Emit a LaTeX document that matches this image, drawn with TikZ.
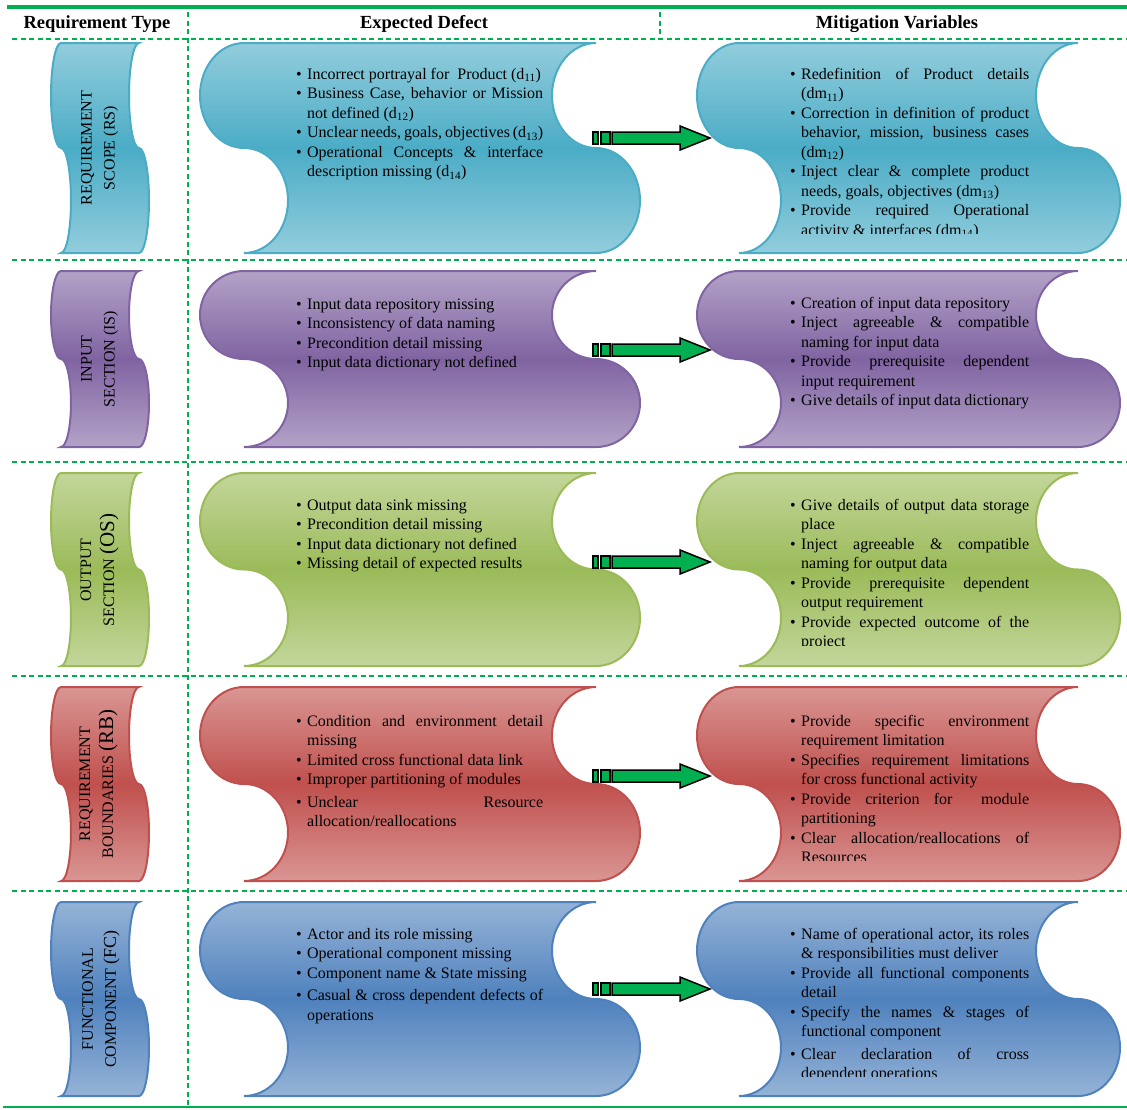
\documentclass[tikz,border=0pt]{standalone}
\usepackage{fontspec}
\setmainfont{Liberation Serif}
\definecolor{lnGreen}{HTML}{00B050}
\definecolor{rsD}{HTML}{4BACC6}\definecolor{rsL}{HTML}{92CDDC}
\definecolor{isD}{HTML}{8064A2}\definecolor{isL}{HTML}{B3A2C7}
\definecolor{osD}{HTML}{9BBB59}\definecolor{osL}{HTML}{C3D69B}
\definecolor{rbD}{HTML}{C0504D}\definecolor{rbL}{HTML}{D99694}
\definecolor{fcD}{HTML}{4F81BD}\definecolor{fcL}{HTML}{95B3D7}
\tikzset{
  tapesty/.style={draw=#1D, line width=2pt, top color=#1L, bottom color=#1L, middle color=#1D},
  gridline/.style={draw=lnGreen, line width=2pt, dash pattern=on 5pt off 3.5pt},
  arrowbox/.style={fill=lnGreen, draw=black, line width=1.5pt, line join=miter},
  hdr/.style={anchor=base, inner sep=0pt, font=\bfseries\fontsize{18.5}{22}\selectfont},
  edtext/.style={anchor=base west, inner sep=0pt, text width=247pt, align=justify, font=\fontsize{16}{19.5}\selectfont},
  mvtext/.style={anchor=base west, inner sep=0pt, text width=239pt, align=justify, font=\fontsize{16}{19.5}\selectfont},
  typetext/.style={rotate=90, align=center, inner sep=0pt, font=\fontsize{16}{23}\selectfont},
}
\newcommand\bfirst{\hangindent=11pt\hangafter=1\noindent\hbox to 11pt{\textbullet\hfil}}
\newcommand\bitem{\par\bfirst}
\newcommand\bgap{\par\vskip3pt\bfirst}
\newcommand\tapeshape[6]{%
 \pgfmathsetmacro\Tq{(#5-#4)/4}%
 \pgfmathsetmacro\Tka{0.5523*#6}%
 \pgfmathsetmacro\Tkq{0.5523*\Tq}%
 \pgfmathsetmacro\Ya{#4+\Tq-\Tkq}%
 \pgfmathsetmacro\Yb{#4+\Tq}%
 \pgfmathsetmacro\Yc{#4+\Tq+\Tkq}%
 \pgfmathsetmacro\Yd{#4+2*\Tq}%
 \pgfmathsetmacro\Ye{#4+3*\Tq-\Tkq}%
 \pgfmathsetmacro\Yf{#4+3*\Tq}%
 \pgfmathsetmacro\Yg{#4+3*\Tq+\Tkq}%
 \pgfmathsetmacro\XRa{#3-\Tka}\pgfmathsetmacro\XRb{#3-#6}\pgfmathsetmacro\XRc{#3+\Tka}\pgfmathsetmacro\XRd{#3+#6}%
 \pgfmathsetmacro\XLa{#2-\Tka}\pgfmathsetmacro\XLb{#2-#6}\pgfmathsetmacro\XLc{#2+\Tka}\pgfmathsetmacro\XLd{#2+#6}%
 \path[tapesty=#1] (#2,#4) -- (#3,#4)
  .. controls (\XRa,#4) and (\XRb,\Ya) .. (\XRb,\Yb)
  .. controls (\XRb,\Yc) and (\XRa,\Yd) .. (#3,\Yd)
  .. controls (\XRc,\Yd) and (\XRd,\Ye) .. (\XRd,\Yf)
  .. controls (\XRd,\Yg) and (\XRc,#5) .. (#3,#5)
  -- (#2,#5)
  .. controls (\XLc,#5) and (\XLd,\Yg) .. (\XLd,\Yf)
  .. controls (\XLd,\Ye) and (\XLc,\Yd) .. (#2,\Yd)
  .. controls (\XLa,\Yd) and (\XLb,\Yc) .. (\XLb,\Yb)
  .. controls (\XLb,\Ya) and (\XLa,#4) .. (#2,#4) -- cycle;
}
\newcommand\rowshapes[3]{%
 \tapeshape{#1}{61}{139}{#2}{#3}{10}%
 \tapeshape{#1}{244}{596}{#2}{#3}{44}%
 \tapeshape{#1}{739}{1078}{#2}{#3}{42}%
}
\newcommand\flowarrow[1]{%
 \pgfmathsetmacro\Aa{#1-6}\pgfmathsetmacro\Ab{#1+6}\pgfmathsetmacro\Ac{#1-12}\pgfmathsetmacro\Ad{#1+12}%
 \draw[arrowbox] (593,\Aa) rectangle (598,\Ab);
 \draw[arrowbox] (601,\Aa) rectangle (610,\Ab);
 \draw[arrowbox] (612,\Aa) -- (680,\Aa) -- (680,\Ac) -- (710,#1) -- (680,\Ad) -- (680,\Ab) -- (612,\Ab) -- cycle;
}
\begin{document}
\begin{tikzpicture}[x=1pt,y=-1pt]
\useasboundingbox (0,0) rectangle (1127,1109);
% frame lines
\draw[lnGreen, line width=4pt] (7,7) -- (1127,7);
\draw[lnGreen, line width=2pt] (3,1107) -- (1127,1107);
\draw[gridline] (188,12) -- (188,1106);
\draw[gridline] (660,12) -- (660,38);
\foreach \yy in {39,260,462,676,891} \draw[gridline] (12,\yy) -- (1127,\yy);
% headers
\node[hdr] (h1) at (97,28) {Requirement Type};
\node[hdr] (h2) at (424,28) {Expected Defect};
\node[hdr] (h3) at (897,28) {Mitigation Variables};
% shapes
\rowshapes{rs}{43}{253}
\rowshapes{is}{271}{447}
\rowshapes{os}{473}{666}
\rowshapes{rb}{687}{881}
\rowshapes{fc}{902}{1096}
% arrows
\flowarrow{138}
\flowarrow{350}
\flowarrow{562}
\flowarrow{776}
\flowarrow{989}
% type labels
\node[typetext] (rt1) at (99.5,148) {REQUIREMENT\\SCOPE (RS)};
\node[typetext] (rt2) at (99.5,359) {INPUT\\SECTION (IS)};
\node[typetext] (rt3) at (99.5,570) {OUTPUT\\SECTION {\fontsize{21}{23}\selectfont(OS)}};
\node[typetext] (rt4) at (98.5,784) {REQUIREMENT\\BOUNDARIES {\fontsize{21}{23}\selectfont(RB)}};
\node[typetext] (rt5) at (101,999) {FUNCTIONAL\\COMPONENT {\fontsize{18}{23}\selectfont(FC)}};
% expected defects
\node[edtext] (ed1) at (296,79) {\bfirst Incorrect portrayal for\ \ Product (d\textsubscript{11})
\bitem Business Case, behavior or Mission\linebreak not defined (d\textsubscript{12})
\bitem Unclear needs, goals, objectives (d\textsubscript{13})
\bitem Operational Concepts \& interface\linebreak description missing (d\textsubscript{14})\par};
\node[edtext] (ed2) at (296,309) {\bfirst Input data repository missing
\bitem Inconsistency of data naming
\bitem Precondition detail missing
\bitem Input data dictionary not defined\par};
\node[edtext] (ed3) at (296,510) {\bfirst Output data sink missing
\bitem Precondition detail missing
\bitem Input data dictionary not defined
\bitem Missing detail of expected results\par};
\node[edtext] (ed4) at (296,726) {\bfirst Condition and environment detail\linebreak missing
\bitem Limited cross functional data link
\bitem Improper partitioning of modules
\bgap Unclear Resource\linebreak allocation/reallocations\par};
\node[edtext] (ed5) at (296,939) {\bfirst Actor and its role missing
\bitem Operational component missing
\bitem Component name \& State missing
\bgap Casual \& cross dependent defects of\linebreak operations\par};
% mitigation variables
\begin{scope}
\clip (780,40) rectangle (1040,233);
\node[mvtext] (mv1) at (790,79) {\bfirst Redefinition of Product details\linebreak (dm\textsubscript{11})
\bitem Correction in definition of product\linebreak behavior, mission, business cases\linebreak (dm\textsubscript{12})
\bitem Inject clear \& complete product\linebreak needs, goals, objectives (dm\textsubscript{13})
\bitem Provide required Operational\linebreak activity \& interfaces (dm\textsubscript{14})\par};
\end{scope}
\node[mvtext] (mv2) at (790,308) {\bfirst Creation of input data repository
\bitem Inject agreeable \& compatible\linebreak naming for input data
\bitem Provide prerequisite dependent\linebreak input requirement
\bitem Give details of input data dictionary\par};
\begin{scope}
\clip (780,470) rectangle (1040,645);
\node[mvtext] (mv3) at (790,510) {\bfirst Give details of output data storage\linebreak place
\bitem Inject agreeable \& compatible\linebreak naming for output data
\bitem Provide prerequisite dependent\linebreak output requirement
\bitem Provide expected outcome of the\linebreak project\par};
\end{scope}
\begin{scope}
\clip (780,690) rectangle (1040,860);
\node[mvtext] (mv4) at (790,726) {\bfirst Provide specific environment\linebreak requirement limitation
\bitem Specifies requirement limitations\linebreak for cross functional activity
\bitem Provide criterion for\ \ module\linebreak partitioning
\bitem Clear allocation/reallocations of\linebreak Resources\par};
\end{scope}
\begin{scope}
\clip (780,905) rectangle (1040,1076);
\node[mvtext] (mv5) at (790,939) {\bfirst Name of operational actor, its roles\linebreak \& responsibilities must deliver
\bitem Provide all functional components\linebreak detail
\bitem Specify the names \& stages of\linebreak functional component
\bgap Clear declaration of cross\linebreak dependent operations\par};
\end{scope}
\end{tikzpicture}
\end{document}
